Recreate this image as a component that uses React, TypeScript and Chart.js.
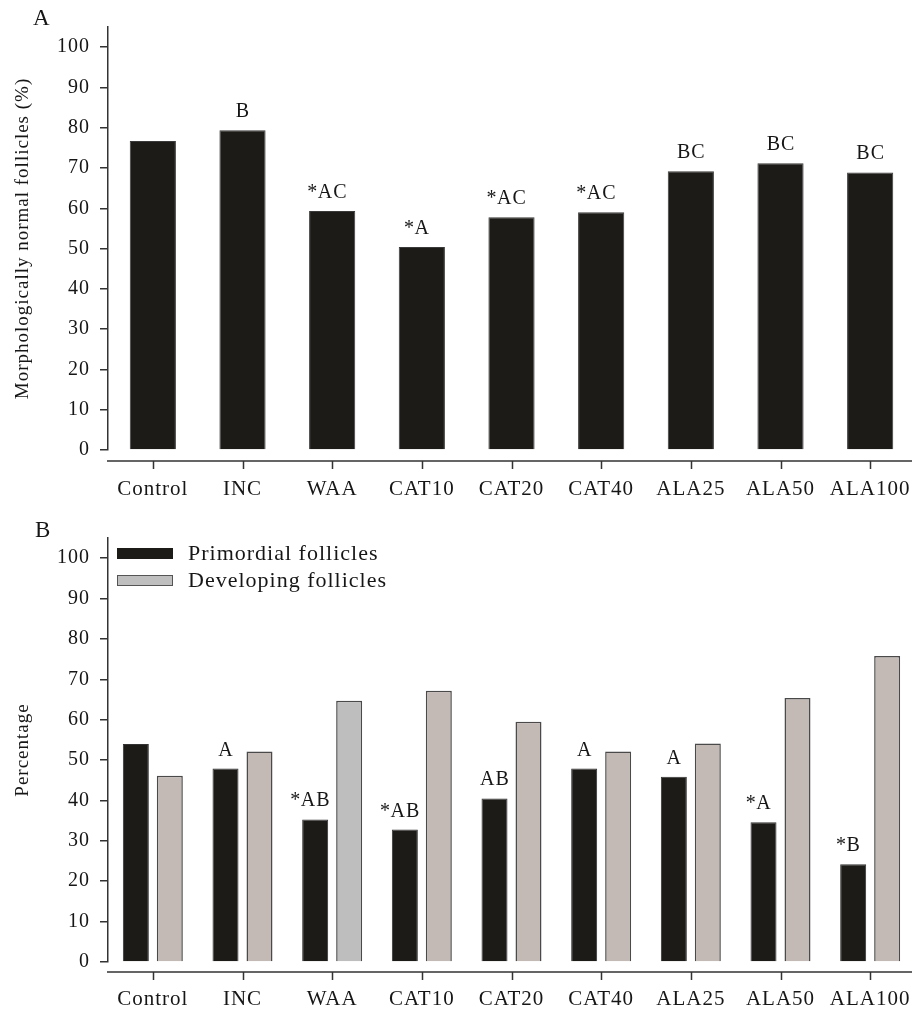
import React, { useEffect, useRef } from 'react';
import { Chart, registerables } from 'chart.js';

Chart.register(...registerables);

const FONT = "'Liberation Serif', 'Times New Roman', serif";
const TEXT = '#161616';
const AXIS = '#333';

const categories = ['Control', 'INC', 'WAA', 'CAT10', 'CAT20', 'CAT40', 'ALA25', 'ALA50', 'ALA100'];
const yTickValues = [0, 10, 20, 30, 40, 50, 60, 70, 80, 90, 100];

const normalFollicles = [76.7, 79.4, 59.3, 50.4, 57.8, 59.0, 69.2, 71.2, 68.9];
const normalLabels = ['', 'B', '*AC', '*A', '*AC', '*AC', 'BC', 'BC', 'BC'];

const primordial = [54.0, 47.9, 35.3, 32.8, 40.5, 47.9, 45.9, 34.6, 24.2];
const developing = [46.1, 52.1, 64.7, 67.2, 59.5, 52.1, 54.1, 65.4, 75.8];
const primordialLabels = ['', 'A', '*AB', '*AB', 'AB', 'A', 'A', '*A', '*B'];

const developingColors = ['#c3bab5', '#c3bab5', '#bebebe', '#c3bab5', '#c3bab5', '#c3bab5', '#c3bab5', '#c3bab5', '#c3bab5'];

const spacingPlugin = {
  id: 'spacing',
  beforeLayout(chart: any) { chart.ctx.letterSpacing = '1px'; },
  beforeDraw(chart: any) { chart.ctx.letterSpacing = '1px'; },
};

function offsetXAxis(gap: number) {
  return {
    id: 'offsetXAxis',
    afterDraw(chart: any) {
      const { ctx, chartArea } = chart;
      const xs = chart.scales.x;
      const y0 = chartArea.bottom + gap;
      ctx.save();
      ctx.strokeStyle = AXIS;
      ctx.lineWidth = 1.5;
      ctx.beginPath();
      ctx.moveTo(chartArea.left - 1, y0);
      ctx.lineTo(chartArea.right - 3, y0);
      for (let i = 0; i < xs.ticks.length; i++) {
        const px = Math.round(xs.getPixelForTick(i)) + 0.5;
        ctx.moveTo(px, y0);
        ctx.lineTo(px, y0 + 8);
      }
      ctx.stroke();
      ctx.restore();
    },
  };
}

function barLabels(datasetIndex: number, labels: string[]) {
  return {
    id: 'barLabels',
    afterDatasetsDraw(chart: any) {
      const ctx = chart.ctx;
      const meta = chart.getDatasetMeta(datasetIndex);
      ctx.save();
      ctx.letterSpacing = '1px';
      ctx.font = `20px ${FONT}`;
      ctx.fillStyle = TEXT;
      ctx.textBaseline = 'alphabetic';
      meta.data.forEach((bar: any, i: number) => {
        const t = labels[i];
        if (!t) return;
        const star = t.startsWith('*');
        const main = star ? t.slice(1) : t;
        const w = ctx.measureText(main).width;
        const y = bar.y - 13;
        ctx.textAlign = 'center';
        ctx.fillText(main, bar.x + 0.5, y);
        if (star) {
          ctx.textAlign = 'right';
          ctx.fillText('*', bar.x - w / 2 + 1, y);
        }
      });
      ctx.restore();
    },
  };
}

function panelLetter(letter: string, x: number, y: number) {
  return {
    id: 'panelLetter',
    afterDraw(chart: any) {
      const ctx = chart.ctx;
      ctx.save();
      ctx.letterSpacing = '0px';
      ctx.font = `23px ${FONT}`;
      ctx.fillStyle = TEXT;
      ctx.textAlign = 'left';
      ctx.textBaseline = 'alphabetic';
      ctx.fillText(letter, x, y);
      ctx.restore();
    },
  };
}

const legendPlugin = {
  id: 'customLegend',
  afterDraw(chart: any) {
    const { ctx, chartArea } = chart;
    const items = [
      { text: 'Primordial follicles', fill: '#1d1b17', stroke: '#1d1b17' },
      { text: 'Developing follicles', fill: '#bfbfbf', stroke: '#555' },
    ];
    ctx.save();
    ctx.letterSpacing = '1px';
    ctx.font = `22px ${FONT}`;
    ctx.fillStyle = TEXT;
    ctx.textAlign = 'left';
    ctx.textBaseline = 'middle';
    items.forEach((it, i) => {
      const x = chartArea.left + 9;
      const y = chartArea.top + 10 + i * 27;
      ctx.fillStyle = it.fill;
      ctx.fillRect(x, y, 56, 11);
      ctx.strokeStyle = it.stroke;
      ctx.lineWidth = 1;
      ctx.strokeRect(x + 0.5, y + 0.5, 55, 10);
      ctx.fillStyle = TEXT;
      ctx.fillText(it.text, x + 71, y + 6);
    });
    ctx.restore();
  },
};

function yScale(title: string) {
  return {
    min: 0,
    max: 105,
    afterBuildTicks: (s: any) => {
      s.ticks = yTickValues.map((v) => ({ value: v }));
    },
    ticks: { stepSize: 10, font: { family: FONT, size: 20 }, color: TEXT, padding: 10 },
    grid: { display: true, drawOnChartArea: false, drawTicks: true, tickLength: 8, color: AXIS, lineWidth: 1.5 },
    border: { display: true, color: AXIS, width: 1.5 },
    title: { display: true, text: title, font: { family: FONT, size: 19 }, color: TEXT, padding: { top: 12, bottom: 0 } },
    afterFit: (s: any) => { s.width = 108; },
  };
}

function xScale(height: number, padding: number) {
  return {
    offset: true,
    grid: { display: false, drawTicks: false },
    border: { display: false },
    ticks: { font: { family: FONT, size: 21 }, color: TEXT, padding, maxRotation: 0, autoSkip: false },
    afterFit: (s: any) => {
      s.height = height;
      s.paddingLeft = 0;
      s.paddingRight = 0;
    },
  };
}

function ChartA() {
  const ref = useRef<HTMLCanvasElement>(null);
  useEffect(() => {
    const chart = new Chart(ref.current!, {
      type: 'bar',
      data: {
        labels: categories,
        datasets: [
          {
            label: 'Morphologically normal follicles (%)',
            data: normalFollicles,
            backgroundColor: '#1d1b17',
            borderColor: '#3a3a3a',
            borderWidth: 1,
            categoryPercentage: 1,
            barPercentage: 0.515,
          },
        ],
      },
      options: {
        animation: false,
        responsive: true,
        maintainAspectRatio: false,
        layout: { padding: { top: 27, right: 1, left: 0, bottom: 0 } },
        plugins: { legend: { display: false }, tooltip: { enabled: false } },
        scales: { x: xScale(50, 27) as any, y: yScale('Morphologically normal follicles (%)') as any },
      },
      plugins: [spacingPlugin, offsetXAxis(11), barLabels(0, normalLabels), panelLetter('A', 33, 25)],
    });
    return () => chart.destroy();
  }, []);
  return (
    <div style={{ position: 'relative', width: 916, height: 500 }}>
      <canvas ref={ref} />
    </div>
  );
}

function ChartB() {
  const ref = useRef<HTMLCanvasElement>(null);
  useEffect(() => {
    const chart = new Chart(ref.current!, {
      type: 'bar',
      data: {
        labels: categories,
        datasets: [
          {
            label: 'Primordial follicles',
            data: primordial,
            backgroundColor: '#1d1b17',
            borderColor: '#333',
            borderWidth: 1,
            categoryPercentage: 0.758,
            barPercentage: 0.765,
          },
          {
            label: 'Developing follicles',
            data: developing,
            backgroundColor: developingColors,
            borderColor: '#4a4a4a',
            borderWidth: 1.5,
            categoryPercentage: 0.758,
            barPercentage: 0.765,
          },
        ],
      },
      options: {
        animation: false,
        responsive: true,
        maintainAspectRatio: false,
        layout: { padding: { top: 38, right: 1, left: 0, bottom: 0 } },
        plugins: { legend: { display: false }, tooltip: { enabled: false } },
        scales: { x: xScale(51, 25) as any, y: yScale('Percentage') as any },
      },
      plugins: [spacingPlugin, offsetXAxis(10), barLabels(0, primordialLabels), legendPlugin, panelLetter('B', 35, 37)],
    });
    return () => chart.destroy();
  }, []);
  return (
    <div style={{ position: 'relative', width: 916, height: 513 }}>
      <canvas ref={ref} />
    </div>
  );
}

export default function App() {
  return (
    <div style={{ position: 'absolute', left: 0, top: 0, width: 916, background: '#fff' }}>
      <ChartA />
      <ChartB />
    </div>
  );
}
